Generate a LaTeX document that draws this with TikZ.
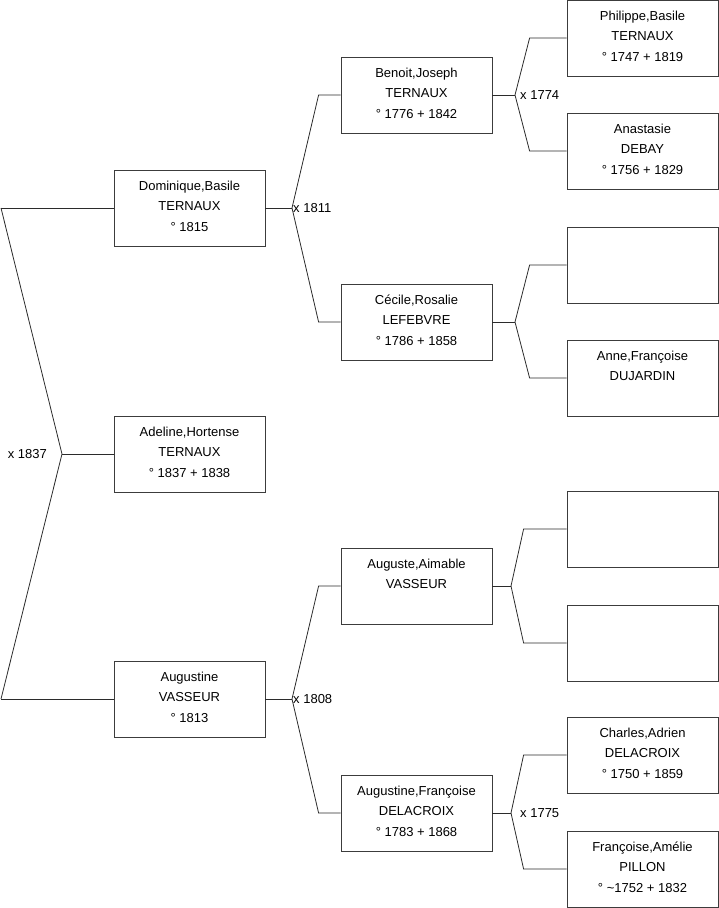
\documentclass[tikz,border=0pt]{standalone}
\usepackage{fontspec}
\setmainfont{Liberation Sans}
\definecolor{mLine}{HTML}{2B2B2B}
\definecolor{mBox}{HTML}{3C3C3C}
\usetikzlibrary{positioning}
\newcommand{\pfont}{\fontsize{13}{20.5}\selectfont}
\newcommand{\pnode}[3]{%
 \node[draw=mBox, line width=0.8pt, inner sep=0pt, minimum width=151pt, minimum height=76pt, font=\pfont] (#2) at (#1) {\parbox[c][76pt][t]{151pt}{\centering\vspace*{5.65pt}\strut #3}};}
\tikzset{
 link/.style={draw=mLine, line width=0.8pt},
 wed/.style={font=\pfont, inner sep=1pt, text=black}
}

\begin{document}
\begin{tikzpicture}[x=1pt, y=-1pt]
\useasboundingbox (0,0) rectangle (719,908);
\pnode{189.5,208}{dom}{Dominique,Basile\\TERNAUX\\° 1815}
\pnode{189.5,454}{ade}{Adeline,Hortense\\TERNAUX\\° 1837 + 1838}
\pnode{189.5,699}{aug}{Augustine\\VASSEUR\\° 1813}
\pnode{416.5,95}{ben}{Benoit,Joseph\\TERNAUX\\° 1776 + 1842}
\pnode{416.5,322}{cec}{Cécile,Rosalie\\LEFEBVRE\\° 1786 + 1858}
\pnode{416.5,586}{aua}{Auguste,Aimable\\VASSEUR}
\pnode{416.5,813}{auf}{Augustine,Françoise\\DELACROIX\\° 1783 + 1868}
\pnode{642.5,38}{phi}{Philippe,Basile\\TERNAUX\\° 1747 + 1819}
\pnode{642.5,151}{ana}{Anastasie\\DEBAY\\° 1756 + 1829}
\pnode{642.5,265}{nn1}{}
\pnode{642.5,378}{ann}{Anne,Françoise\\DUJARDIN}
\pnode{642.5,529}{nn2}{}
\pnode{642.5,643}{nn3}{}
\pnode{642.5,755}{cha}{Charles,Adrien\\DELACROIX\\° 1750 + 1859}
\pnode{642.5,869}{fra}{Françoise,Amélie\\PILLON\\° \textasciitilde1752 + 1832}

\coordinate (r1) at (1,208);
\coordinate (r2) at (1,699);
\coordinate (f0) at (62,454);
\coordinate (f1) at (292,208);
\coordinate (f2) at (292,699);
\coordinate (f3) at (515,95);
\coordinate (f4) at (515,322);
\coordinate (f5) at (511,586);
\coordinate (f6) at (511,813);

\draw[link] (r1) -- (dom.west);
\draw[link] (r2) -- (aug.west);
\draw[link] (r1) -- (f0) -- (r2);
\draw[link] (f0) -- (ade.west);

\draw[link] (dom.east) -- (f1);
\draw[link] (f1) -- ([xshift=-22pt]ben.west) -- (ben.west);
\draw[link] (f1) -- ([xshift=-22pt]cec.west) -- (cec.west);
\draw[link] (aug.east) -- (f2);
\draw[link] (f2) -- ([xshift=-22pt]aua.west) -- (aua.west);
\draw[link] (f2) -- ([xshift=-22pt]auf.west) -- (auf.west);

\draw[link] (ben.east) -- (f3);
\draw[link] (f3) -- ([xshift=-37pt]phi.west) -- (phi.west);
\draw[link] (f3) -- ([xshift=-37pt]ana.west) -- (ana.west);
\draw[link] (cec.east) -- (f4);
\draw[link] (f4) -- ([xshift=-37pt]nn1.west) -- (nn1.west);
\draw[link] (f4) -- ([xshift=-37pt]ann.west) -- (ann.west);
\draw[link] (aua.east) -- (f5);
\draw[link] (f5) -- ([xshift=-43pt]nn2.west) -- (nn2.west);
\draw[link] (f5) -- ([xshift=-43pt]nn3.west) -- (nn3.west);
\draw[link] (auf.east) -- (f6);
\draw[link] (f6) -- ([xshift=-43pt]cha.west) -- (cha.west);
\draw[link] (f6) -- ([xshift=-43pt]fra.west) -- (fra.west);

\node[wed, anchor=east] (m0) at ([xshift=-14pt]f0) {x 1837};
\node[wed, anchor=west] (m1) at (f1) {x 1811};
\node[wed, anchor=west] (m2) at (f2) {x 1808};
\node[wed, anchor=west] (m3) at ([xshift=4pt]f3) {x 1774};
\node[wed, anchor=west] (m6) at ([xshift=8pt]f6) {x 1775};
\end{tikzpicture}
\end{document}
